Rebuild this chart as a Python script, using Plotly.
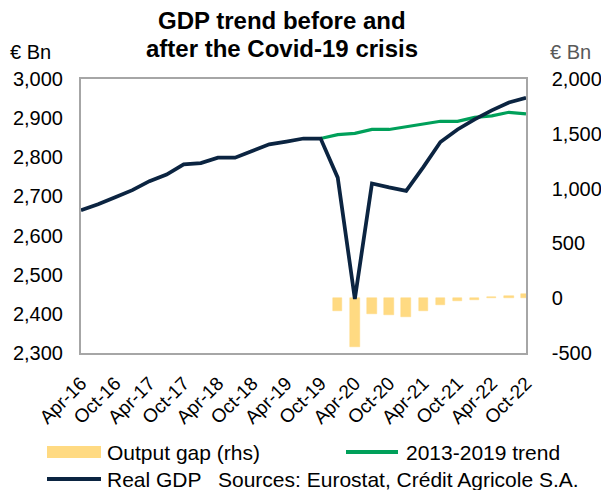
import plotly.graph_objects as go

# Quarterly periods, Q2 2016 to Q4 2022
periods = [
    "Apr-16", "Jul-16", "Oct-16",
    "Jan-17", "Apr-17", "Jul-17", "Oct-17",
    "Jan-18", "Apr-18", "Jul-18", "Oct-18",
    "Jan-19", "Apr-19", "Jul-19", "Oct-19",
    "Jan-20", "Apr-20", "Jul-20", "Oct-20",
    "Jan-21", "Apr-21", "Jul-21", "Oct-21",
    "Jan-22", "Apr-22", "Jul-22", "Oct-22",
]
tick_labels = periods[::2]

# Real GDP, € Bn (left axis)
real_gdp = [
    2665, 2680, 2698,
    2716, 2739, 2756, 2782,
    2785, 2799, 2799, 2816,
    2833, 2840, 2848, 2848,
    2748, 2438, 2733, 2723,
    2714, 2775, 2839, 2871,
    2897, 2920, 2940, 2952,
]

# 2013-2019 trend extended after Q4 2019, € Bn (left axis)
trend = [None] * 14 + [
    2848, 2858, 2861, 2871, 2871, 2878, 2885,
    2892, 2892, 2902, 2906, 2915, 2911,
]

# Output gap, € Bn (right axis)
output_gap = [None] * 15 + [
    -115, -445, -145, -155, -168, -120,
    -60, -30, -15, 10, 22, 38,
]

# Axis ticks
left_ticks = [2300, 2400, 2500, 2600, 2700, 2800, 2900, 3000]
left_labels = ["2,300", "2,400", "2,500", "2,600", "2,700", "2,800", "2,900", "3,000"]
right_ticks = [-500, 0, 500, 1000, 1500, 2000]
right_labels = ["-500", "0", "500", "1,000", "1,500", "2,000"]

NAVY = "#0B2441"
GREEN = "#00A05A"
GOLD = "#FFDA82"
AXIS_GREY = "#A6A6A6"
FONT = "Liberation Sans, Arial, sans-serif"

W, H = 601, 490
L, R, T, B = 81, 75, 79, 137
PW, PH = W - L - R, H - T - B


def px_x(px):
    return (px - L) / PW


def px_y(py):
    return (H - B - py) / PH


fig = go.Figure()

fig.add_trace(go.Bar(
    x=periods, y=output_gap, name="Output gap (rhs)",
    marker=dict(color=GOLD, line=dict(color=GOLD, width=0.5)),
    width=0.55, yaxis="y", showlegend=False,
))
fig.add_trace(go.Scatter(
    x=periods, y=trend, name="2013-2019 trend", mode="lines",
    line=dict(color=GREEN, width=3.25), yaxis="y2", showlegend=False,
))
fig.add_trace(go.Scatter(
    x=periods, y=real_gdp, name="Real GDP", mode="lines",
    line=dict(color=NAVY, width=3.75), yaxis="y2", showlegend=False,
))

fig.update_layout(
    width=W, height=H,
    margin=dict(l=L, r=R, t=T, b=B, pad=0, autoexpand=False),
    paper_bgcolor="white", plot_bgcolor="white",
    font=dict(family=FONT, color="black"),
    bargap=0,
    xaxis=dict(
        type="category", categoryorder="array", categoryarray=periods,
        range=[0, len(periods) - 1], automargin=False,
        tickvals=tick_labels, ticktext=tick_labels, tickangle=-45,
        tickfont=dict(size=19, color="black"),
        showgrid=False, zeroline=False,
        showline=True, linecolor=AXIS_GREY, linewidth=1.5, mirror=True,
        ticks="", ticklabelstandoff=10,
    ),
    yaxis=dict(
        side="right", range=[-500, 2000], automargin=False,
        tickvals=right_ticks, ticktext=right_labels,
        tickfont=dict(size=20, color="black"),
        showgrid=False, zeroline=False,
        showline=True, linecolor=AXIS_GREY, linewidth=1.5, mirror=True,
        ticks="", ticklabelstandoff=20,
    ),
    yaxis2=dict(
        side="left", overlaying="y", range=[2300, 3000], automargin=False,
        tickvals=left_ticks, ticktext=left_labels,
        tickfont=dict(size=20, color="black"),
        showgrid=False, zeroline=False, showline=False,
        ticks="", ticklabelstandoff=17,
    ),
)

annotations = [
    dict(text="<b>GDP trend before and</b>", x=px_x(282), y=px_y(21),
         font=dict(size=24, color="black"), xanchor="center"),
    dict(text="<b>after the Covid-19 crisis</b>", x=px_x(282), y=px_y(48),
         font=dict(size=24, color="black"), xanchor="center"),
    dict(text="€ Bn", x=px_x(8), y=px_y(52), font=dict(size=20, color="black"),
         xanchor="left"),
    dict(text="€ Bn", x=px_x(548), y=px_y(52), font=dict(size=20, color="#595959"),
         xanchor="left"),
    dict(text="Output gap (rhs)", x=px_x(105), y=px_y(452),
         font=dict(size=21, color="black"), xanchor="left"),
    dict(text="2013-2019 trend", x=px_x(404), y=px_y(452),
         font=dict(size=21, color="black"), xanchor="left"),
    dict(text="Real GDP", x=px_x(105), y=px_y(479),
         font=dict(size=21, color="black"), xanchor="left"),
    dict(text="Sources: Eurostat, Crédit Agricole S.A.", x=px_x(216), y=px_y(479),
         font=dict(size=21, color="black"), xanchor="left"),
]
for a in annotations:
    a.update(xref="paper", yref="paper", yanchor="middle", showarrow=False)
fig.update_layout(annotations=annotations)

# Legend swatches
fig.update_layout(shapes=[
    dict(type="rect", xref="paper", yref="paper",
         x0=px_x(47), x1=px_x(101), y0=px_y(458), y1=px_y(446),
         fillcolor=GOLD, line=dict(width=0)),
    dict(type="line", xref="paper", yref="paper",
         x0=px_x(346), x1=px_x(398), y0=px_y(452), y1=px_y(452),
         line=dict(color=GREEN, width=4)),
    dict(type="line", xref="paper", yref="paper",
         x0=px_x(47), x1=px_x(101), y0=px_y(479), y1=px_y(479),
         line=dict(color=NAVY, width=4)),
])

fig.write_html("out.html")
